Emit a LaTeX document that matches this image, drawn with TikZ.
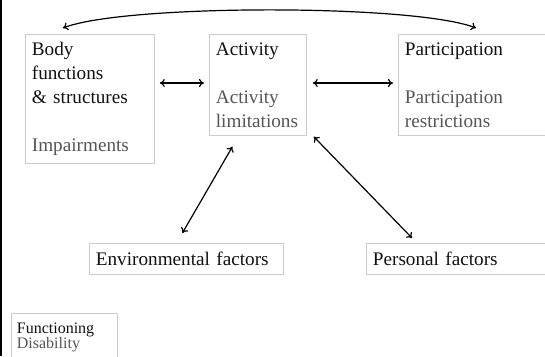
\documentclass[tikz,border=0pt]{standalone}
\usepackage{xcolor}
\usepackage{fontspec}
\setmainfont{Liberation Serif}
\usetikzlibrary{arrows.meta,positioning}

\definecolor{boxline}{HTML}{CCCCCC}
\definecolor{subtext}{HTML}{555555}
\definecolor{maintext}{HTML}{111111}

\begin{document}
\begin{tikzpicture}[
    x=1pt, y=-1pt,
    box/.style={rectangle, draw=boxline, line width=0.8pt, anchor=north west, align=left, inner xsep=6.5pt, text=maintext, font=\fontsize{19.2}{24}\selectfont},
    factor/.style={box, inner ysep=0pt, minimum height=31pt},
    legend/.style={box, inner xsep=5.5pt, inner ysep=9pt, font=\fontsize{16}{12.5}\selectfont},
    arrow/.style={line width=1.2pt, {To[length=5pt,width=8pt]}-{To[length=5pt,width=8pt]}}
]
\useasboundingbox (0,0) rectangle (545,356);
\fill[black] (0,0) rectangle (2,356);

% Components
\node[box, text width=116pt, inner ysep=8pt] (body) at (25,34) {Body\\functions\\\& structures\\[24pt]\textcolor{subtext}{Impairments}};
\node[box, text width=84pt, inner ysep=8pt] (act) at (209,34) {Activity\\[24pt]\textcolor{subtext}{Activity}\\\textcolor{subtext}{limitations}};
\node[box, text width=150pt, inner ysep=8pt] (part) at (398,34) {Participation\\[24pt]\textcolor{subtext}{Participation}\\\textcolor{subtext}{restrictions}};

% Contextual factors
\node[factor, text width=181pt] (env) at (89,243) {Environmental factors};
\node[factor, text width=181pt] (pers) at (366,243) {Personal factors};

% Legend
\node[legend, text width=95pt] (key) at (11,313) {Functioning\\\textcolor{subtext}{Disability}\\\strut};

% Interactions
\draw[arrow] (body.east |- 0,83) ++(5,0) -- ([xshift=-5pt]act.west |- 0,83);
\draw[arrow] (act.east |- 0,83) ++(6,0) -- ([xshift=-5pt]part.west |- 0,83);
\draw[arrow] ([xshift=38pt,yshift=6pt]body.north west) .. controls (125,4) and (414,4) .. ([xshift=78pt,yshift=6pt]part.north west);
\draw[arrow] ([xshift=-4pt,yshift=10pt]env.north) -- ([xshift=-25.5pt,yshift=-11pt]act.south);
\draw[arrow] ([xshift=46pt,yshift=5pt]pers.north west) -- ([xshift=7pt,yshift=-1pt]act.south east);
\end{tikzpicture}
\end{document}
